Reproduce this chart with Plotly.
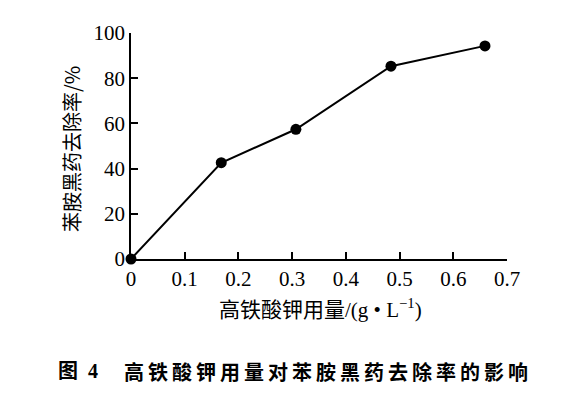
import plotly.graph_objects as go

dosage = [0, 0.168, 0.307, 0.484, 0.659]
removal = [0, 42.6, 57.4, 85.3, 94.3]
x_ticks = [0, 0.1, 0.2, 0.3, 0.4, 0.5, 0.6, 0.7]
x_tick_labels = ["0", "0.1", "0.2", "0.3", "0.4", "0.5", "0.6", "0.7"]
y_ticks = [0, 20, 40, 60, 80, 100]
x_title = "高铁酸钾用量/(g • L<sup>−1</sup>)"
y_title = "苯胺黑药去除率/%"
fig_label = "图\u20024"
caption = "高铁酸钾用量对苯胺黑药去除率的影响"

serif = "Liberation Serif, Times New Roman, serif"
cjk = "Noto Sans CJK SC, sans-serif"

# page body has an 8px margin; figure coordinates = reference pixels - 8
OFF = 8
W, H = 554, 380
L, T = 131 - OFF, 33 - OFF
R = W - (507 - OFF)
B = H - (259 - OFF)
pw, ph = W - L - R, H - T - B


def px(xp):
    return (xp - OFF - L) / pw


def py(yp):
    return (H - B - (yp - OFF)) / ph


fig = go.Figure()
fig.add_trace(go.Scatter(
    x=dosage, y=removal, mode="lines+markers",
    line=dict(color="black", width=2),
    marker=dict(color="black", size=11),
    cliponaxis=False, showlegend=False,
))

spaced_caption = "\u2009".join(caption)

fig.update_layout(
    width=W, height=H,
    margin=dict(l=L, r=R, t=T, b=B, autoexpand=False),
    paper_bgcolor="white", plot_bgcolor="white",
    font=dict(family=serif, color="black", size=21),
    xaxis=dict(
        range=[0, 0.7], tickvals=x_ticks, ticktext=x_tick_labels,
        showline=True, linecolor="black", linewidth=1.5,
        ticks="inside", ticklen=7, tickwidth=1.5, tickcolor="black",
        showgrid=False, zeroline=False,
        tickfont=dict(family=serif, size=21),
    ),
    yaxis=dict(
        range=[0, 100], tickvals=y_ticks,
        showline=True, linecolor="black", linewidth=1.5,
        ticks="inside", ticklen=7, tickwidth=1.5, tickcolor="black",
        showgrid=False, zeroline=False,
        tickfont=dict(family=serif, size=21),
    ),
    annotations=[
        dict(text=x_title, xref="paper", yref="paper", x=px(320), y=py(308),
             xanchor="center", yanchor="middle", showarrow=False,
             font=dict(family=serif + ", " + cjk, size=21)),
        dict(text=y_title, xref="paper", yref="paper", x=px(71), y=py(149),
             xanchor="center", yanchor="middle", showarrow=False, textangle=-90,
             font=dict(family=cjk, size=20)),
        dict(text="<b>" + fig_label + "</b>", xref="paper", yref="paper",
             x=px(56), y=py(371), xanchor="left", yanchor="middle", showarrow=False,
             font=dict(family=serif + ", " + cjk, size=20)),
        dict(text="<b>" + spaced_caption + "</b>", xref="paper", yref="paper",
             x=px(122), y=py(371), xanchor="left", yanchor="middle", showarrow=False,
             font=dict(family=cjk, size=20)),
    ],
)

fig.write_html("out.html")
